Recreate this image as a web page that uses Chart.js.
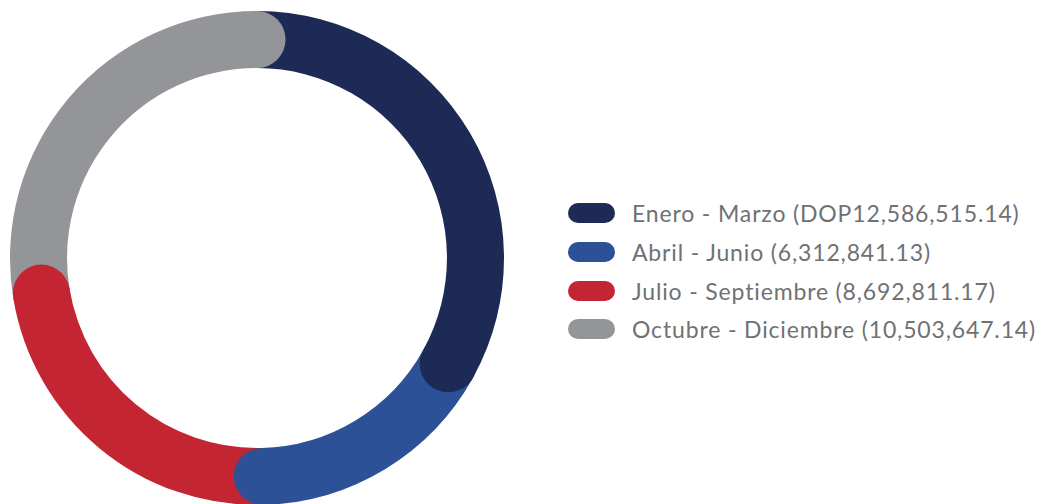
<!DOCTYPE html>
<html>
<head>
<meta charset="utf-8">
<script src="https://cdn.jsdelivr.net/npm/chart.js@4"></script>
<style>
  html, body { margin: 0; padding: 0; background: #fff; width: 1042px; height: 504px; overflow: hidden; }
  #wrap { position: absolute; left: 10px; top: 11px; width: 494px; height: 494px; }
  #legend { position: absolute; left: 568px; top: 194px; font-family: 'Lato', sans-serif; font-weight: 400; font-size: 23px; letter-spacing: 0.85px; color: #707174; }
  .row { display: flex; align-items: center; height: 38.7px; white-space: nowrap; }
  .swatch { width: 47px; height: 20px; border-radius: 10px; margin-right: 17px; flex: none; }
</style>
</head>
<body>
<div id="wrap"><canvas id="donut"></canvas></div>
<div id="legend"></div>
<script>
const labels = ["Enero - Marzo", "Abril - Junio", "Julio - Septiembre", "Octubre - Diciembre"];
const amounts = [12586515.14, 6312841.13, 8692811.17, 10503647.14];
const amountText = ["DOP12,586,515.14", "6,312,841.13", "8,692,811.17", "10,503,647.14"];
const colors = ["#1c2a55", "#2c5196", "#c32632", "#939598"];

// round caps on the end of each arc, drawn over the next segment
const endCaps = {
    id: "endCaps",
    afterDatasetsDraw(chart) {
        const ctx = chart.ctx;
        chart.getDatasetMeta(0).data.forEach((arc, i) => {
            const p = arc.getProps(["x", "y", "endAngle", "innerRadius", "outerRadius"], true);
            const mid = (p.innerRadius + p.outerRadius) / 2;
            const r = (p.outerRadius - p.innerRadius) / 2;
            ctx.save();
            ctx.fillStyle = colors[i];
            ctx.beginPath();
            ctx.arc(p.x + Math.cos(p.endAngle) * mid, p.y + Math.sin(p.endAngle) * mid, r, 0, Math.PI * 2);
            ctx.fill();
            ctx.restore();
        });
    }
};

new Chart(document.getElementById("donut"), {
    type: "doughnut",
    data: {
        labels: labels,
        datasets: [{
            data: amounts,
            backgroundColor: colors,
            borderWidth: 0,
            hoverOffset: 0,
        }]
    },
    options: {
        responsive: true,
        maintainAspectRatio: false,
        animation: false,
        cutout: "76.9%",
        layout: { padding: 0 },
        plugins: {
            legend: { display: false },
            tooltip: { enabled: false },
        }
    },
    plugins: [endCaps]
});

const legend = document.getElementById("legend");
labels.forEach((lab, i) => {
    const row = document.createElement("div");
    row.className = "row";
    row.innerHTML = '<span class="swatch" style="background:' + colors[i] + '"></span><span>' + lab + ' (' + amountText[i] + ')</span>';
    legend.appendChild(row);
});
</script>
</body>
</html>
